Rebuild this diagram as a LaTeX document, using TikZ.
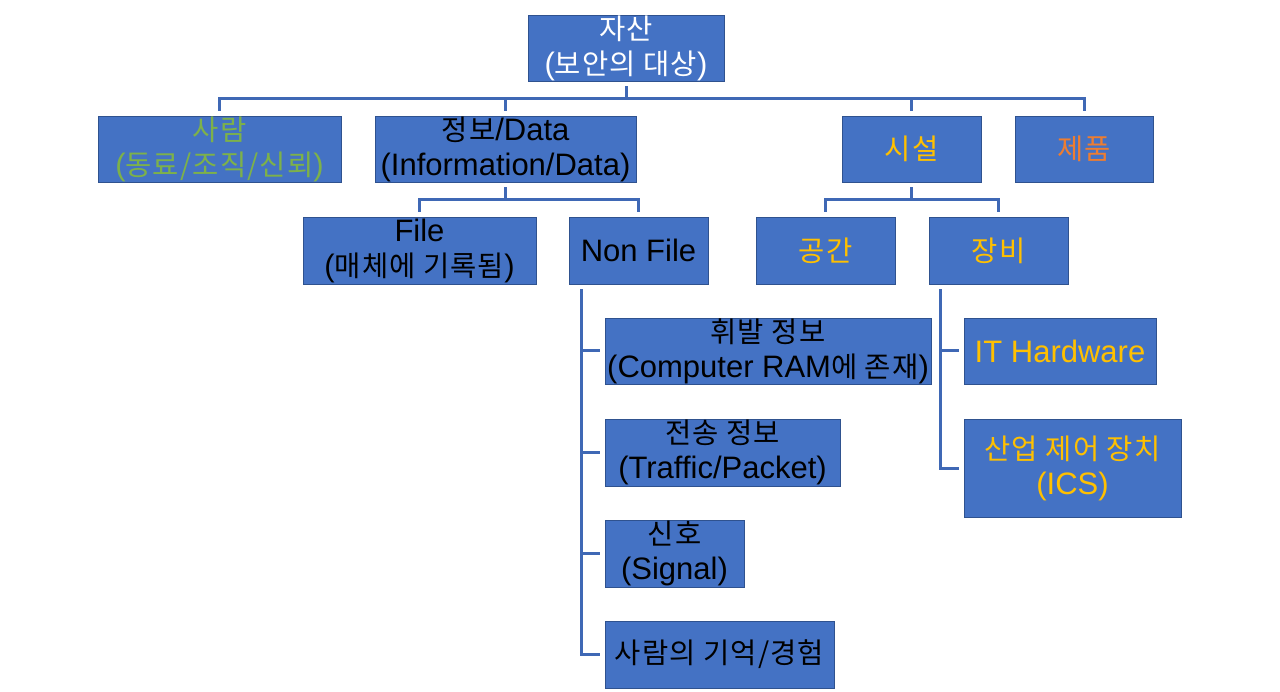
\documentclass[tikz,border=0pt]{standalone}
\usepackage{fontspec}
\setmainfont{Liberation Sans}
\newfontfamily\krfont[Scale=0.92, LetterSpace=4]{Noto Sans CJK KR}
\usepackage{tikz}
\definecolor{boxfill}{HTML}{4472C4}
\definecolor{boxline}{HTML}{2F528F}
\definecolor{linkblue}{HTML}{3F68B5}
\definecolor{txtgreen}{HTML}{7DB14A}
\definecolor{txtyellow}{HTML}{FFC000}
\definecolor{txtorange}{HTML}{ED7D31}

\begin{document}
\begin{tikzpicture}[x=1pt, y=-1pt,
	every node/.style={font=\fontsize{31}{35}\selectfont},
	box/.style={draw=boxline, fill=boxfill, line width=0.8pt, inner sep=0pt, align=center, minimum height=66pt},
	link/.style={draw=linkblue, line width=3pt, shorten <=5pt, shorten >=5pt}]
	\useasboundingbox (0,0) rectangle (1280,692);
	% top level
	\node[box, text=white, minimum width=196pt] (root) at (626,48) {{\krfont 자산}\\({\krfont 보안의 대상})};
	\node[box, text=txtgreen, minimum width=243pt] (people) at (219.5,149) {{\krfont 사람}\\({\krfont 동료/조직/신뢰})};
	\node[box, text=black, minimum width=261pt] (info) at (505.5,149) {{\krfont 정보}/Data\\(Information/Data)};
	\node[box, text=txtyellow, minimum width=139pt] (facility) at (911.5,149) {\krfont 시설};
	\node[box, text=txtorange, minimum width=138pt] (product) at (1084,149) {\krfont 제품};
	% second level
	\node[box, text=black, minimum width=233pt, minimum height=67pt] (file) at (419.5,250.5) {File\\({\krfont 매체에 기록됨})};
	\node[box, text=black, minimum width=139pt, minimum height=67pt] (nonfile) at (638.5,250.5) {Non File};
	\node[box, text=txtyellow, minimum width=139pt, minimum height=67pt] (space) at (825.5,250.5) {\krfont 공간};
	\node[box, text=txtyellow, minimum width=139pt, minimum height=67pt] (equip) at (998.5,250.5) {\krfont 장비};
	% non file items
	\node[box, text=black, minimum width=326pt] (volatile) at (768,351) {{\krfont 휘발 정보}\\(Computer RAM{\krfont 에 존재})};
	\node[box, text=black, minimum width=235pt, minimum height=67pt] (transit) at (722.5,452.5) {{\krfont 전송 정보}\\(Traffic/Packet)};
	\node[box, text=black, minimum width=139pt, minimum height=67pt] (signal) at (674.5,553.5) {{\krfont 신호}\\(Signal)};
	\node[box, text=black, minimum width=229pt, minimum height=67pt] (memory) at (719.5,654.5) {\krfont 사람의 기억/경험};
	% equipment items
	\node[box, text=txtyellow, minimum width=192pt] (ithw) at (1060,351) {IT Hardware};
	\node[box, text=txtyellow, minimum width=217pt, minimum height=98pt] (ics) at (1072.5,468) {{\krfont 산업 제어 장치}\\(ICS)};
	% connectors
	\foreach \c in {people, info, facility, product}
		\draw[link] (root.south) -- ++(0,17) -| (\c.north);
	\foreach \c in {file, nonfile}
		\draw[link] (info.south) -- ++(0,17) -| (\c.north);
	\foreach \c in {space, equip}
		\draw[link] (facility.south) -- ++(0,17) -| (\c.north);
	\foreach \c in {volatile, transit, signal, memory}
		\draw[link] ([xshift=13pt]nonfile.south west) |- (\c.west);
	\foreach \c in {ithw, ics}
		\draw[link] ([xshift=12pt]equip.south west) |- (\c.west);
\end{tikzpicture}
\end{document}
